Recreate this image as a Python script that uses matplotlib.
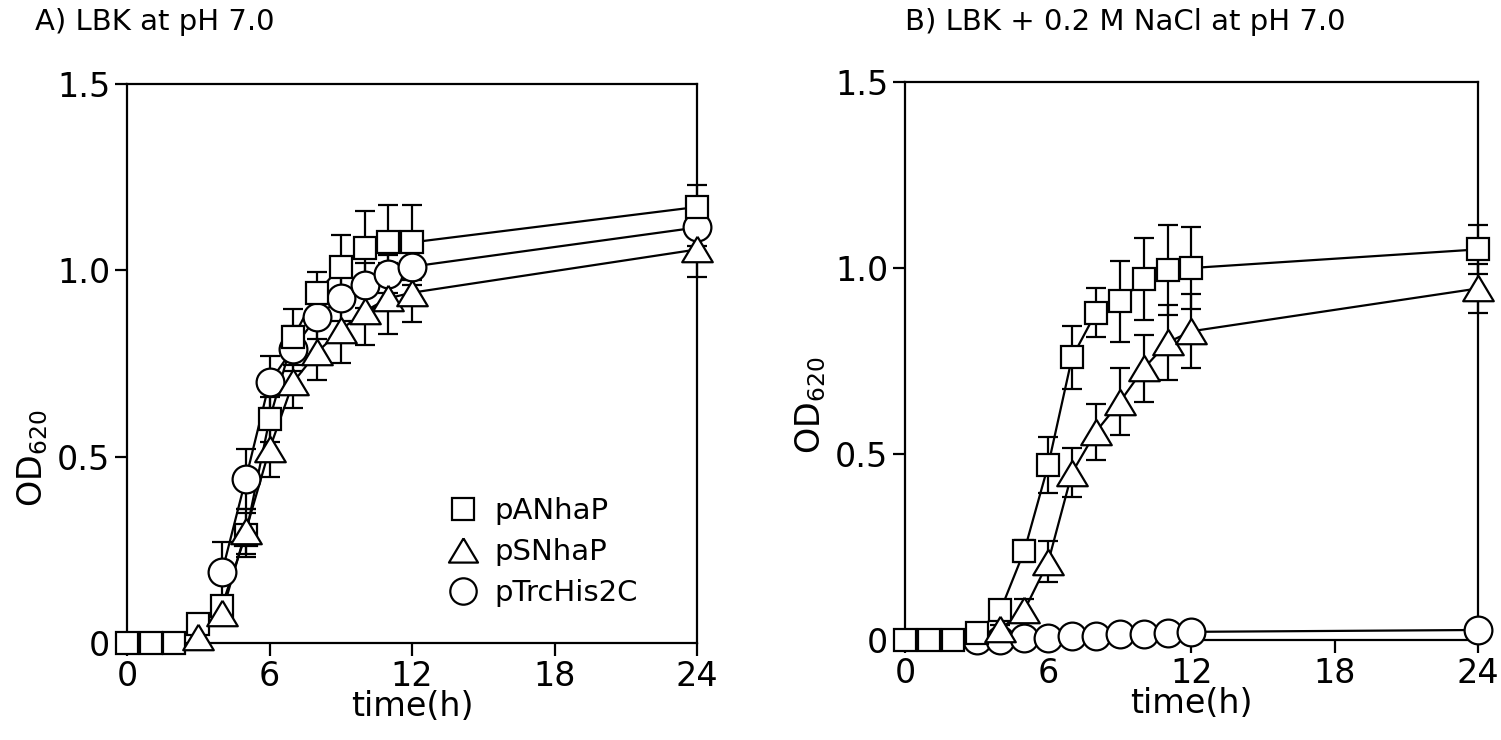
import numpy as np
import matplotlib.pyplot as plt
from matplotlib.lines import Line2D

nan = np.nan

# sampling times (h)
time_h = [0, 1, 2, 3, 4, 5, 6, 7, 8, 9, 10, 11, 12, 24]

# A) LBK at pH 7.0
a_anhap = [0, 0, 0, 0.05, 0.10, 0.29, 0.60, 0.82, 0.94, 1.01, 1.06, 1.075, 1.075, 1.17]
a_anhap_err = [0, 0, 0, 0.01, 0.02, 0.06, 0.06, 0.075, 0.055, 0.085, 0.10, 0.10, 0.10, 0.06]
a_snhap = [nan, nan, nan, 0.015, 0.08, 0.30, 0.52, 0.70, 0.78, 0.84, 0.89, 0.925, 0.94, 1.056]
a_snhap_err = [0, 0, 0, 0.01, 0.03, 0.06, 0.075, 0.07, 0.075, 0.09, 0.09, 0.095, 0.08, 0.075]
a_trc = [nan, nan, nan, nan, 0.19, 0.44, 0.70, 0.79, 0.876, 0.925, 0.96, 0.99, 1.01, 1.115]
a_trc_err = [0, 0, 0, 0, 0.08, 0.08, 0.07, 0.06, 0.06, 0.06, 0.06, 0.05, 0.05, 0.05]

# B) LBK + 0.2 M NaCl at pH 7.0
b_anhap = [0, 0, 0, 0.02, 0.08, 0.24, 0.47, 0.76, 0.88, 0.91, 0.97, 0.995, 1.0, 1.05]
b_anhap_err = [0, 0, 0, 0.01, 0.02, 0.03, 0.075, 0.085, 0.065, 0.11, 0.11, 0.12, 0.11, 0.065]
b_snhap = [nan, nan, nan, nan, 0.03, 0.08, 0.21, 0.45, 0.56, 0.64, 0.73, 0.80, 0.83, 0.945]
b_snhap_err = [0, 0, 0, 0, 0.01, 0.03, 0.055, 0.065, 0.075, 0.09, 0.09, 0.10, 0.10, 0.065]
b_trc = [nan, nan, nan, 0.0, 0.0, 0.005, 0.005, 0.01, 0.01, 0.015, 0.015, 0.02, 0.022, 0.027]
b_trc_err = [0, 0, 0, 0, 0, 0, 0, 0, 0, 0, 0, 0, 0, 0]

labels = ["pANhaP", "pSNhaP", "pTrcHis2C"]
x_ticks = [0, 6, 12, 18, 24]
y_ticks = [0, 0.5, 1.0, 1.5]
y_ticklabels = ["0", "0.5", "1.0", "1.5"]

plt.rcParams["font.family"] = ["DejaVu Sans"]
plt.rcParams["mathtext.default"] = "regular"

LW = 1.6
TRI = [(0, 1), (-1.2, -1), (1.2, -1), (0, 1)]
STYLES = [
    dict(marker="s", ms=16.5, z=4),
    dict(marker=TRI, ms=22, z=5),
    dict(marker="o", ms=20, z=3),
]


def draw_series(ax, y, err, style):
    y = np.array(y, dtype=float)
    t = np.array(time_h, dtype=float)
    ax.errorbar(t, y, yerr=err, fmt="none", ecolor="black", elinewidth=LW,
                capsize=7, capthick=LW, zorder=1, clip_on=False)
    ax.plot(t, y, "-", color="black", lw=LW, zorder=2, clip_on=False)
    ax.plot(t, y, linestyle="none", marker=style["marker"], ms=style["ms"],
            mfc="white", mec="black", mew=LW, zorder=style["z"], clip_on=False)


def style_axes(ax, label_y):
    ax.set_xlim(0, 24)
    ax.set_ylim(0, 1.5)
    ax.set_xticks(x_ticks)
    ax.set_yticks(y_ticks)
    ax.set_yticklabels(y_ticklabels)
    for s in ax.spines.values():
        s.set_linewidth(LW)
    ax.tick_params(direction="out", length=9, width=LW, labelsize=24, pad=3)
    ax.set_xlabel("time(h)", fontsize=24, labelpad=-2)
    ax.set_ylabel("OD$_{620}$", fontsize=24)
    ax.yaxis.set_label_coords(-0.135, label_y)


fig = plt.figure(figsize=(15.01, 7.40), dpi=100)
axA = fig.add_axes([0.0846, 0.1311, 0.3798, 0.7554])
axB = fig.add_axes([0.6029, 0.1351, 0.3818, 0.7541])

for y, e, st in zip([a_anhap, a_snhap, a_trc], [a_anhap_err, a_snhap_err, a_trc_err], STYLES):
    draw_series(axA, y, e, st)
for y, e, st in zip([b_anhap, b_snhap, b_trc], [b_anhap_err, b_snhap_err, b_trc_err], STYLES):
    draw_series(axB, y, e, st)

style_axes(axA, 0.33)
style_axes(axB, 0.42)

handles = [Line2D([], [], linestyle="none", marker=st["marker"], ms=st["ms"] * 0.95,
                  mfc="white", mec="black", mew=LW) for st in STYLES]
axA.legend(handles, labels, loc="center left", bbox_to_anchor=(0.563, 0.163),
           frameon=False, fontsize=21, handlelength=1.0, handletextpad=0.6,
           labelspacing=0.45, borderaxespad=0, borderpad=0)

fig.text(0.023, 0.970, "A) LBK at pH 7.0", fontsize=21, va="center", ha="left")
fig.text(0.603, 0.970, "B) LBK + 0.2 M NaCl at pH 7.0", fontsize=21, va="center", ha="left")

fig.savefig("out.png", dpi=100)
